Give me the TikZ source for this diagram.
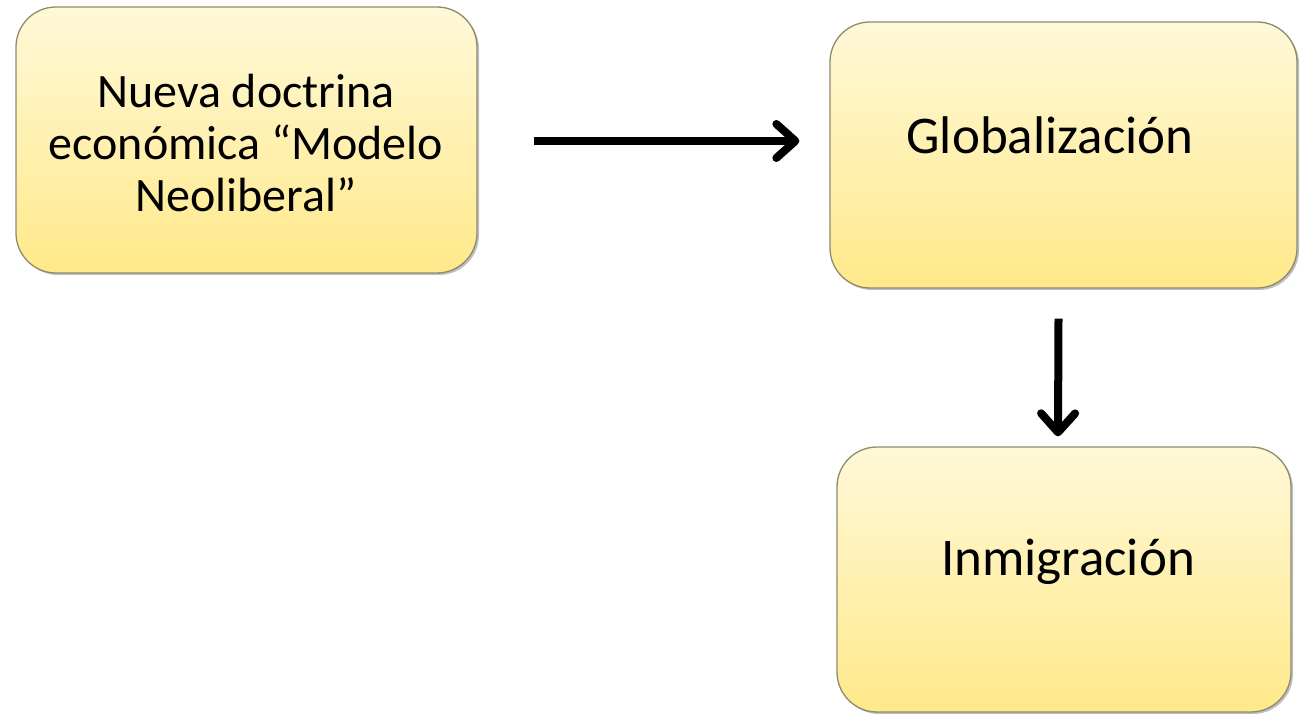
\documentclass[tikz,border=0pt]{standalone}
\usepackage{fontspec}
\setmainfont{Carlito}
\usetikzlibrary{arrows.meta,shadows,calc}
\begin{document}
\begin{tikzpicture}[x=1pt,y=1pt,
  ybox/.style={line width=1.3pt, rounded corners=40pt,
     drop shadow={shadow xshift=2pt,shadow yshift=-2pt,opacity=0.25,fill=black}},
  ytext/.style={font=\fontsize{48}{52}\selectfont, align=center, text=black},
  ytextbig/.style={font=\fontsize{53}{60}\selectfont, align=center, text=black},
  bigarrow/.style={line width=8pt, -{Straight Barb[length=19pt,width=34pt,line cap=round,line join=round]}}
]
\useasboundingbox (0,0) rectangle (1301,714);
\definecolor{ytop}{HTML}{FFF8D8}
\definecolor{ybot}{HTML}{FFE98A}
\definecolor{yborder}{HTML}{8E8B6E}
\tikzset{ybox/.append style={top color=ytop,bottom color=ybot,draw=yborder}}
\node[ybox, minimum width=461pt, minimum height=266pt] (n1) at (246.5,574) {};
\node[ybox, minimum width=467pt, minimum height=266pt] (n2) at (1063.5,559) {};
\node[ybox, minimum width=454pt, minimum height=265pt] (n3) at (1064,134.5) {};
\node[ytext] (t1) at (246,571) {Nueva doctrina\\económica “Modelo\\Neoliberal”};
\node[ytextbig] (t2) at (1050,579) {Globalización};
\node[ytextbig] (t3) at (1068,152) {Inmigración};
\coordinate (a1s) at ($(n1.east)+(56pt,-1pt)$);
\coordinate (a1e) at ($(n2.west)+(-30pt,14pt)$);
\coordinate (a2s) at ($(n2.south)+(-5pt,-30pt)$);
\coordinate (a2e) at ($(n3.north)+(-6pt,10pt)$);
\draw[bigarrow] (a1s) -- (a1e);
\draw[bigarrow] (a2s) -- (a2e);
\end{tikzpicture}
\end{document}
